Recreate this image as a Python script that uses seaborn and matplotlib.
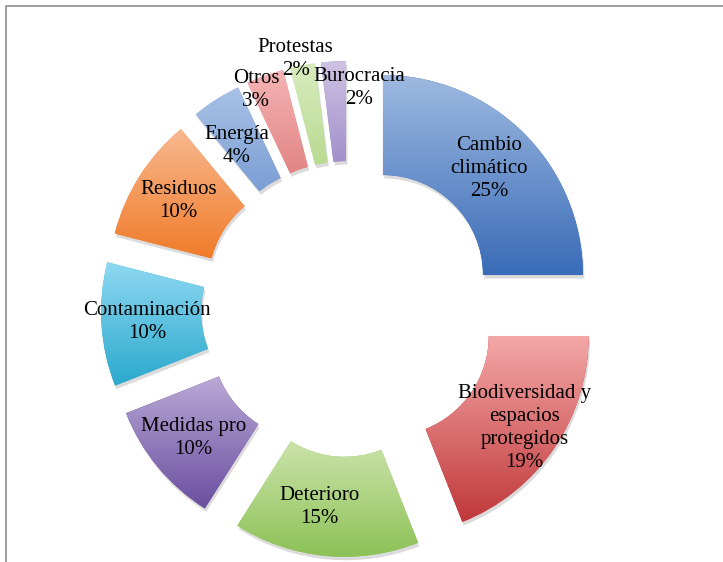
import numpy as np
import matplotlib.pyplot as plt
import seaborn as sns
from matplotlib.colors import to_rgb
from matplotlib.patches import Rectangle, Shadow

# data
categories = ["Cambio\nclimático", "Biodiversidad y\nespacios\nprotegidos",
              "Deterioro", "Medidas pro", "Contaminación", "Residuos",
              "Energía", "Otros", "Protestas", "Burocracia"]
values = [25, 19, 15, 10, 10, 10, 4, 3, 2, 2]

# gradient colours (top, bottom) for each wedge
top_colors = ["#9DB9E0", "#F4A7A7", "#CBE3AA", "#B9A9D6", "#8ED8F2",
              "#F8B890", "#A9C2E6", "#F5B4B4", "#D8ECBD", "#CDC2E2"]
bottom_colors = ["#3A6CB8", "#C0393B", "#8DC257", "#6B4FA0", "#2BA9CC",
                 "#F07C2A", "#7B9ED4", "#E28585", "#B9DA92", "#A291CB"]

# label placement: radius (fraction of outer radius) and angle nudge (deg)
label_radius = [0.75, 0.82, 0.76, 0.77, 0.77, 0.77, 0.75, 0.95, 1.04, 0.87]
label_nudge = [0, 0, -4, 0, 0, 0, 3, 4, 1.5, -8]
line_step = 23  # pixels between label lines

sns.set_theme(style="white")
plt.rcParams['font.family'] = ['Liberation Serif', 'DejaVu Serif']

W, H = 723, 562
fig = plt.figure(figsize=(W / 100, H / 100), dpi=100)
ax = fig.add_axes([0, 0, 1, 1])

R = 200
cx, cy = 349, H - 309
expl = 48

wedges, _ = ax.pie(values, startangle=90, counterclock=False, radius=R,
                   center=(cx, cy), explode=[expl] * len(values),
                   colors=bottom_colors,
                   wedgeprops=dict(width=R / 2, edgecolor="none"))

# soft grey shadow under the wedges
for w in wedges:
    s = Shadow(w, 1, -2.5, facecolor="#9A9A9A", edgecolor="none", alpha=0.35)
    s.set_zorder(0.5)
    ax.add_patch(s)

# vertical gradient inside every wedge
for w, c1, c2 in zip(wedges, top_colors, bottom_colors):
    ext = w.get_path().get_extents()
    t = np.linspace(0, 1, 64)[:, None]
    grad = (1 - t) * np.array(to_rgb(c2)) + t * np.array(to_rgb(c1))
    img = ax.imshow(grad[:, None, :], extent=[ext.x0, ext.x1, ext.y0, ext.y1],
                    origin="lower", interpolation="bilinear", zorder=2,
                    aspect="auto")
    img.set_clip_path(w)

# labels, one text per line
total = sum(values)
start = 90.0
for i, (name, v) in enumerate(zip(categories, values)):
    mid = start - 360.0 * v / total / 2
    start -= 360.0 * v / total
    th = np.deg2rad(mid)
    sx = cx + expl * np.cos(th)
    sy = cy + expl * np.sin(th)
    th2 = np.deg2rad(mid + label_nudge[i])
    r = label_radius[i] * R
    lx = sx + r * np.cos(th2)
    ly = sy + r * np.sin(th2)
    lines = name.split("\n") + [f"{v}%"]
    n = len(lines)
    for k, line in enumerate(lines):
        ax.text(lx, ly - (k - (n - 1) / 2) * line_step, line,
                ha="center", va="center", fontsize=15,
                color="black", zorder=5)

# chart frame (cut off on the right and bottom)
ax.add_patch(Rectangle((6, -20), W + 20, H - 6 + 20, fill=False,
                       edgecolor="#8C8C8C", linewidth=1.2, zorder=1))

ax.set_xlim(0, W)
ax.set_ylim(0, H)
ax.set_aspect("equal")
ax.axis("off")

fig.savefig("out.png", dpi=100)
